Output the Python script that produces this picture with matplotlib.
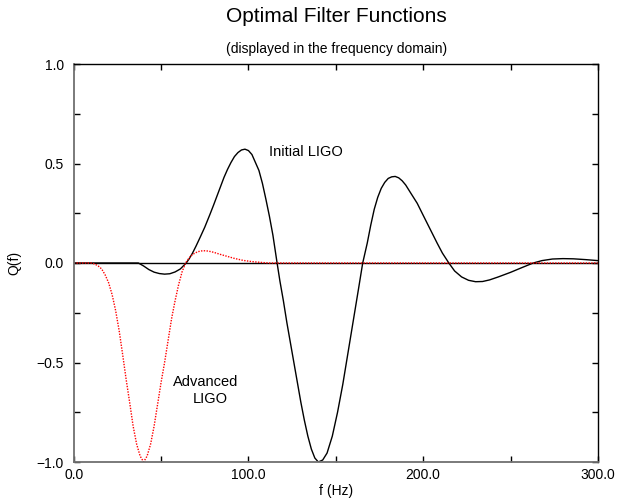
import matplotlib
matplotlib.use('Agg')
import matplotlib.pyplot as plt
from matplotlib.ticker import MultipleLocator, FormatStrFormatter

plt.rcParams['font.family'] = ['Liberation Sans', 'DejaVu Sans']

# Initial LIGO filter
f_init = [0, 37, 40, 43, 46, 49, 52, 55, 58, 61, 64.4, 66, 68, 70, 72.4, 75, 78, 80, 83,
          86, 88, 90, 92, 94, 96, 98, 100, 102, 104, 106, 108, 110, 112, 114, 116.4,
          118, 120, 122, 124, 126, 128, 130, 132, 134, 136, 138, 140, 142.5, 145, 148,
          151, 154, 157, 160, 163, 165.4, 168, 170, 172, 174, 176, 178, 180, 182, 184,
          186, 188, 190, 193, 196.6, 200, 204, 208, 211, 214.7, 218, 222, 226, 230,
          234, 238, 243, 250, 256, 263, 268, 274, 280, 286, 293, 300]
q_init = [0, 0, -0.015, -0.033, -0.046, -0.053, -0.056, -0.054, -0.045, -0.03, 0, 0.02, 0.05, 0.085, 0.13, 0.18, 0.245, 0.29, 0.36,
          0.43, 0.47, 0.505, 0.535, 0.555, 0.568, 0.572, 0.565, 0.545, 0.505, 0.465, 0.40, 0.32, 0.235, 0.14, 0,
          -0.09, -0.19, -0.30, -0.40, -0.50, -0.60, -0.70, -0.79, -0.87, -0.935, -0.98, -1.0, -0.99, -0.955, -0.87,
          -0.75, -0.61, -0.45, -0.29, -0.13, 0, 0.10, 0.19, 0.27, 0.33, 0.375, 0.405, 0.425, 0.433, 0.435,
          0.428, 0.413, 0.392, 0.35, 0.30, 0.24, 0.17, 0.10, 0.05, 0, -0.04, -0.07, -0.087, -0.094,
          -0.093, -0.085, -0.07, -0.047, -0.025, 0, 0.012, 0.02, 0.022, 0.021, 0.017, 0.012]

# Advanced LIGO filter
f_adv = [0, 10, 12, 14, 16, 18, 20, 22, 24, 26, 28, 30, 32, 34, 36, 38, 40, 42, 44, 46,
         48, 50, 52, 54, 56, 58, 60, 62, 64, 66, 68, 71, 74, 77, 80, 84, 88, 92, 97,
         102, 107, 112, 300]
q_adv = [0, 0, -0.005, -0.015, -0.03, -0.06, -0.10, -0.16, -0.24, -0.34, -0.46, -0.585, -0.70, -0.82, -0.91, -0.97, -1.0, -0.97, -0.91, -0.82,
         -0.71, -0.60, -0.50, -0.39, -0.28, -0.19, -0.11, -0.045, 0, 0.025, 0.043, 0.057, 0.062, 0.06, 0.054, 0.043, 0.033, 0.023, 0.013,
         0.007, 0.003, 0, 0]

fig = plt.figure(figsize=(6.17, 5.0), dpi=100)
ax = fig.add_axes([0.1195, 0.076, 0.8495, 0.796])

ax.axhline(0, color='black', lw=1.0)
ax.plot(f_init, q_init, color='black', lw=1.0)
ax.plot(f_adv, q_adv, color='red', lw=1.0, linestyle=(0, (1, 1)))

ax.set_xlim(0, 300)
ax.set_ylim(-1, 1)
ax.xaxis.set_major_locator(MultipleLocator(100))
ax.xaxis.set_minor_locator(MultipleLocator(50))
ax.yaxis.set_major_locator(MultipleLocator(0.5))
ax.yaxis.set_minor_locator(MultipleLocator(0.25))
ax.xaxis.set_major_formatter(FormatStrFormatter('%.1f'))
ax.yaxis.set_major_formatter(lambda v, p: ('%.1f' % v).replace('-', '\u2212'))
ax.tick_params(which='both', direction='in', top=True, right=True, length=4, width=1, labelsize=10)
ax.tick_params(axis='x', pad=4)
ax.tick_params(axis='y', pad=7)
for s in ['left', 'bottom']:
    ax.spines[s].set_color('#707070')
    ax.spines[s].set_linewidth(1.3)
for s in ['top', 'right']:
    ax.spines[s].set_linewidth(1.0)

ax.set_xlabel('f (Hz)', fontsize=10, labelpad=2)
ax.set_ylabel('Q(f)', fontsize=10, labelpad=11)

ax.text(112, 0.556, 'Initial LIGO', fontsize=10.5, ha='left', va='center')
ax.text(75.3, -0.596, 'Advanced', fontsize=10.5, ha='center', va='center')
ax.text(78, -0.683, 'LIGO', fontsize=10.5, ha='center', va='center')

fig.text(0.545, 0.967, 'Optimal Filter Functions', fontsize=15, ha='center', va='center')
fig.text(0.545, 0.903, '(displayed in the frequency domain)', fontsize=10, ha='center', va='center')

fig.savefig('out.png', dpi=100)
